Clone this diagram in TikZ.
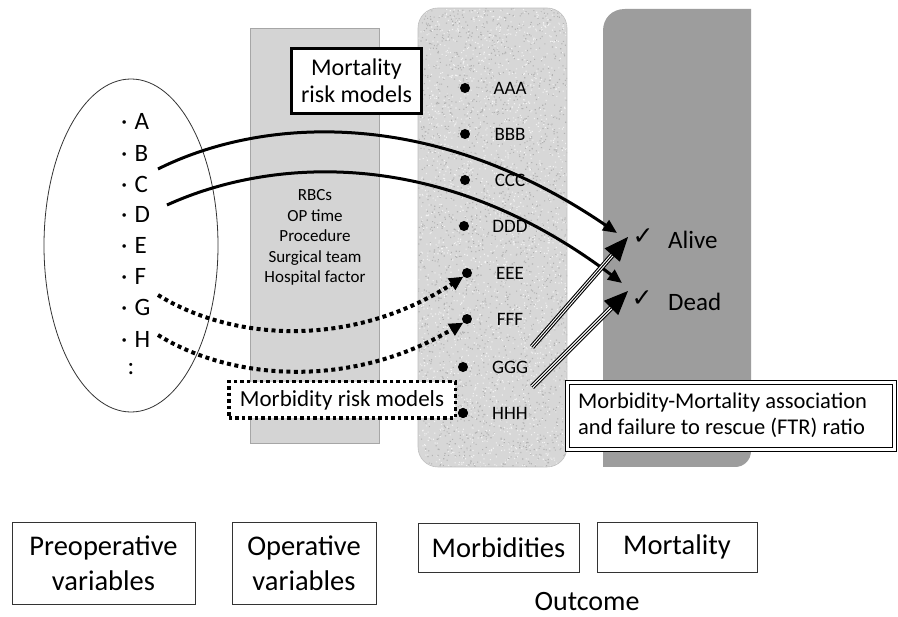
\documentclass[tikz,border=0pt]{standalone}
\usepackage{fontspec}
\setmainfont{Carlito}
\newfontfamily\symf{DejaVu Sans}
\usetikzlibrary{arrows.meta,calc}
\definecolor{opgray}{HTML}{D4D4D4}
\definecolor{opborder}{HTML}{A6A6A6}
\definecolor{morbgray}{HTML}{D7D7D7}
\definecolor{mortgray}{HTML}{9D9D9D}
\begin{document}
\begin{tikzpicture}[x=1pt,y=-1pt,
  letter/.style={anchor=west, inner sep=0pt, font=\fontsize{25}{28}\selectfont},
  mlabel/.style={inner sep=0pt, font=\fontsize{19}{22}\selectfont},
  mdot/.style={circle, fill=black, inner sep=0pt, minimum size=10pt},
  bottombox/.style={draw=black!80, line width=0.9pt, align=center, font=\fontsize{28.5}{35}\selectfont, inner sep=0pt},
  solidarrow/.style={line width=3pt, -{Triangle[length=14pt,width=12pt]}},
  dotarrow/.style={line width=4pt, dash pattern=on 4pt off 3.5pt, -{Triangle[length=14pt,width=13pt]}},
  triplearrow/.style={line width=1pt, -{Triangle[length=24pt,width=20pt]}},
  tripleline/.style={line width=1.1pt, double=white, double distance=3.2pt, shorten >=16pt},
  outcome/.style={inner sep=0pt, font=\fontsize{25}{28}\selectfont, anchor=west},
  chk/.style={inner sep=0pt, font=\symf\fontsize{25}{28}\selectfont},
]
\useasboundingbox[fill=white] (0,0) rectangle (898,617);

% operative column
\fill[opgray, draw=opborder, line width=0.8pt] (250,28) rectangle (379,443);

% morbidity column (speckled)
\begin{scope}
  \clip[rounded corners=20pt] (418,8) rectangle (567,467);
  \fill[morbgray] (418,8) rectangle (567,467);
  \pgfmathsetseed{7}
  \foreach \j in {1,...,18} {
    \fill[black!30] foreach \i in {1,...,120} { ({418+149*rnd},{8+460*rnd}) rectangle ++(1.1,1.1) };
    \fill[white!95!black] foreach \i in {1,...,120} { ({418+149*rnd},{8+460*rnd}) rectangle ++(1.1,1.1) };
  }
\end{scope}
\draw[black!25, line width=0.6pt, rounded corners=20pt] (418,8) rectangle (567,467);

% mortality column
\fill[mortgray] (603,467) -- (603,31) .. controls (603,18) and (612,9) .. (625,9)
  -- (751,9) -- (751,451) .. controls (751,460) and (744,467) .. (735,467) -- cycle;

% preoperative ellipse
\draw[black!80, line width=0.8pt] (131,245.5) ellipse[x radius=87, y radius=166.5];
\node[letter] (A) at (121,121) {·\hspace{7pt}A};
\node[letter] (B) at (121,153) {·\hspace{7pt}B};
\node[letter] (C) at (121,184) {·\hspace{7pt}C};
\node[letter] (D) at (121,214) {·\hspace{7pt}D};
\node[letter] (E) at (121,245) {·\hspace{7pt}E};
\node[letter] (F) at (121,276) {·\hspace{7pt}F};
\node[letter] (G) at (121,307) {·\hspace{7pt}G};
\node[letter] (H) at (121,339) {·\hspace{7pt}H};
\node[inner sep=0pt, font=\fontsize{25}{28}\selectfont] (more) at (131,369) {:};

% operative variables list
\node[inner sep=0pt, align=center, font=\fontsize{17}{20.5}\selectfont] (oplist) at (315,237.5)
  {RBCs\\OP time\\Procedure\\Surgical team\\Hospital factor};

% morbidities
\foreach \n/\lab/\bx/\y in {a/AAA/465/88, b/BBB/465/134, c/CCC/465/180, d/DDD/464/226,
                            e/EEE/467/273, f/FFF/467/319, g/GGG/463/367, h/HHH/463/413} {
  \node[mdot] (\n dot) at (\bx,\y) {};
  \node[mlabel] (\n lab) at (510,\y) {\lab};
}

% outcome labels
\node[chk] (alivechk) at (643,237) {✓};
\node[outcome] (alive) at (668,240) {Alive};
\node[chk] (deadchk) at (642,299) {✓};
\node[outcome] (dead) at (668,302) {Dead};

% connector end points
\coordinate (b0) at (158,169);
\coordinate (d0) at (167,205);
\coordinate (aliveIn) at (617,233);
\coordinate (deadIn) at (622,283);
\coordinate (g0) at (158,295);
\coordinate (h0) at (158,335);
\coordinate (t1s) at (532,347);
\coordinate (t1e) at (628,237);
\coordinate (t2s) at (532,387);
\coordinate (t2e) at (628,291);

% mortality model arrows
\draw[solidarrow] (b0) .. controls (260,118) and (430,105) .. (aliveIn);
\draw[solidarrow] (d0) .. controls (270,158) and (440,145) .. (deadIn);

% morbidity model arrows
\draw[dotarrow] (g0) .. controls (230,340) and (350,350) .. (edot.south west);
\draw[dotarrow] (h0) .. controls (230,380) and (350,390) .. (fdot.south west);

% morbidity-mortality association arrows
\draw[tripleline] (t1s) -- (t1e);
\draw[triplearrow] (t1s) -- (t1e);
\draw[tripleline] (t2s) -- (t2e);
\draw[triplearrow] (t2s) -- (t2e);

% model boxes
\node[draw, fill=white, line width=3pt, minimum width=130pt, minimum height=65pt, inner sep=0pt,
      align=center, font=\fontsize{24}{27}\selectfont] (mortmodel) at (356.5,81) {Mortality\\risk models};
\node[draw, fill=white, line width=3.5pt, dash pattern=on 3.5pt off 3pt, minimum width=226.5pt,
      minimum height=36.5pt, inner sep=0pt, font=\fontsize{23}{26}\selectfont] (morbmodel) at (342,400)
      {Morbidity risk models};
\node[mdot] at (hdot) {};
\node[draw, fill=white, line width=1.2pt, double, double distance=2.5pt, minimum width=327pt,
      minimum height=67pt, inner sep=0pt] (ftr) at (731,416) {};
\node[inner sep=0pt, anchor=west, align=left, font=\fontsize{22.5}{26}\selectfont] (ftrtext) at (578,415)
      {Morbidity-Mortality association\\and failure to rescue (FTR) ratio};

% bottom legend
\node[bottombox, minimum width=183pt, minimum height=82pt] (pre) at (103.5,563) {Preoperative\\variables};
\node[bottombox, minimum width=144pt, minimum height=82pt] (op) at (304,563) {Operative\\variables};
\node[bottombox, minimum width=161pt, minimum height=49pt] (morb) at (498.5,547.5) {Morbidities};
\node[bottombox, minimum width=160pt, minimum height=50pt] (mort) at (677,547) {Mortality};
\node[inner sep=0pt, font=\fontsize{28}{32}\selectfont] (outc) at (587,602) {Outcome};
\end{tikzpicture}
\end{document}
